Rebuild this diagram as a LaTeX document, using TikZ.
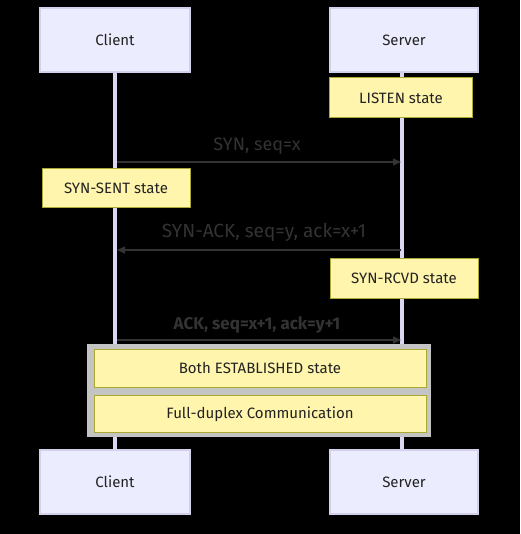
\documentclass[tikz,border=0pt]{standalone}
\usepackage{fontspec}
\setmainfont{Fira Sans}
\usetikzlibrary{arrows.meta}
\definecolor{actorfill}{HTML}{ECECFF}
\definecolor{actorline}{HTML}{D2D0EA}
\definecolor{notefill}{HTML}{FFF5AD}
\definecolor{noteline}{HTML}{AAAA33}
\definecolor{msg}{HTML}{333333}
\definecolor{lifeline}{HTML}{DAD7F3}
\definecolor{backdrop}{HTML}{C4C4C4}
\definecolor{txt}{HTML}{222222}
\begin{document}
\begin{tikzpicture}[x=1pt,y=-1pt,
  actor/.style={draw=actorline, fill=actorfill, line width=1.5pt, minimum height=64pt, inner sep=0pt, font=\fontsize{15}{17}\selectfont, text=txt},
  note/.style={draw=noteline, fill=notefill, line width=1pt, inner sep=0pt, font=\fontsize{15}{17}\selectfont, text=txt},
  life/.style={draw=lifeline, line width=3.5pt},
  message/.style={draw=msg, line width=1.5pt, -{Triangle[length=8pt,width=7pt]}},
  msglabel/.style={text=msg, font=\fontsize{18}{20}\selectfont, inner sep=0pt}]
\useasboundingbox[fill=black] (0,0) rectangle (520,534);
% actors
\node[actor, minimum width=150pt] (ct) at (115,40) {Client};
\node[actor, minimum width=148pt] (st) at (404,40) {Server};
\node[actor, minimum width=150pt] (cb) at (115,482) {Client};
\node[actor, minimum width=148pt] (sb) at (404,482) {Server};
% lifelines
\coordinate (cl) at (115,0);
\coordinate (sl) at (402,0);
\draw[life] (cl |- ct.south) -- (cl |- cb.north);
\draw[life] (sl |- st.south) -- (sl |- sb.north);
% notes
\node[note, minimum width=143pt, minimum height=40pt] (listen) at (401,98) {LISTEN state};
\node[note, minimum width=148pt, minimum height=39pt] (synsent) at (116,188) {SYN-SENT state};
\node[note, minimum width=148pt, minimum height=40pt] (synrcvd) at (404,278) {SYN-RCVD state};
\fill[backdrop] (87,344) rectangle (431,437);
\node[note, minimum width=332pt, minimum height=38pt] (est) at (260,368) {Both ESTABLISHED state};
\node[note, minimum width=332pt, minimum height=37pt] (full) at (260,414) {Full-duplex Communication};
% messages
\coordinate (m1a) at (117,162); \coordinate (m1b) at (401,162);
\coordinate (m2a) at (401,250); \coordinate (m2b) at (117,250);
\coordinate (m3a) at (117,340); \coordinate (m3b) at (401,340);
\draw[message] (m1a) -- (m1b);
\draw[message] (m2a) -- (m2b);
\draw[message] (m3a) -- (m3b);
\node[msglabel] (l1) at (257,146) {SYN, seq=x};
\node[msglabel, font=\fontsize{19}{21}\selectfont] (l2) at (264,232) {SYN-ACK, seq=y, ack=x+1};
\node[msglabel, font=\fontsize{17}{19}\bfseries] (l3) at (257,325) {ACK, seq=x+1, ack=y+1};
\end{tikzpicture}
\end{document}
